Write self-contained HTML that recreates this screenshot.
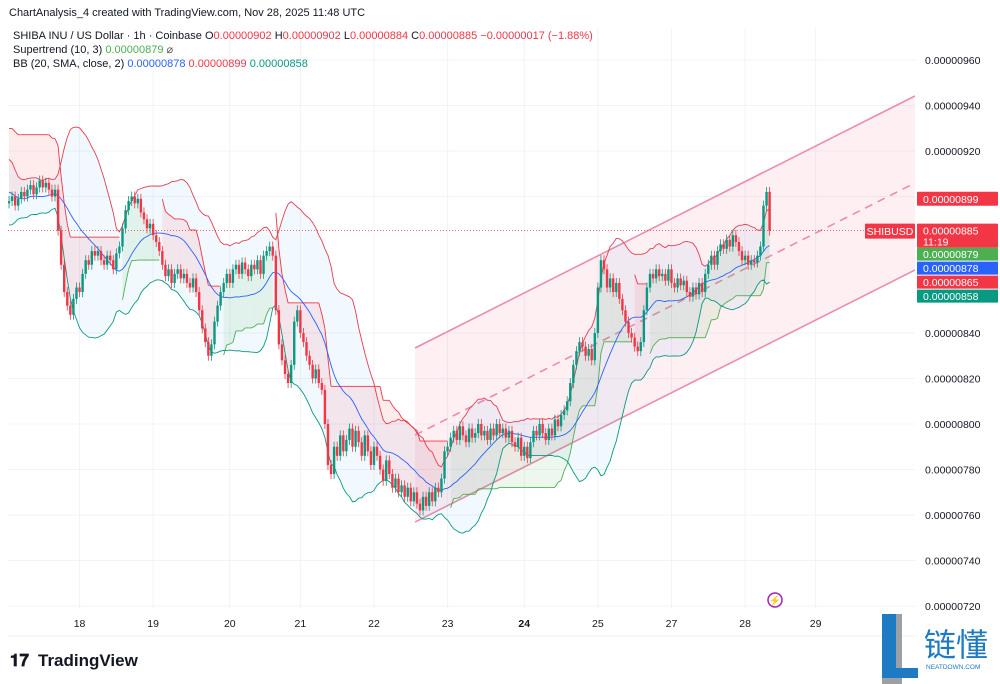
<!DOCTYPE html>
<html><head><meta charset="utf-8"><style>
html,body{margin:0;padding:0;background:#fff;width:1000px;height:684px;overflow:hidden;font-family:"Liberation Sans","Noto Sans CJK SC",sans-serif}
svg text{font-family:"Liberation Sans","Noto Sans CJK SC",sans-serif}
</style></head><body>
<svg id="chart" width="1000" height="684" xmlns="http://www.w3.org/2000/svg">
<g id="grid"></g>
<g id="plot"></g>
<g id="axes"></g>
<text x="9" y="16" font-size="11" fill="#131722">ChartAnalysis_4 created with TradingView.com, Nov 28, 2025 11:48 UTC</text>
<g font-size="11">
<text x="13" y="39" fill="#131722">SHIBA INU / US Dollar · 1h · Coinbase  <tspan fill="#131722">O</tspan><tspan fill="#f23645">0.00000902</tspan>  <tspan fill="#131722">H</tspan><tspan fill="#f23645">0.00000902</tspan>  <tspan fill="#131722">L</tspan><tspan fill="#f23645">0.00000884</tspan>  <tspan fill="#131722">C</tspan><tspan fill="#f23645">0.00000885  −0.00000017 (−1.88%)</tspan></text>
<text x="13" y="53" fill="#131722">Supertrend (10, 3)  <tspan fill="#4caf50">0.00000879</tspan>  <tspan fill="#555">⌀</tspan></text>
<text x="13" y="67" fill="#131722">BB (20, SMA, close, 2)  <tspan fill="#2962ff">0.00000878</tspan>  <tspan fill="#f23645">0.00000899</tspan>  <tspan fill="#089981">0.00000858</tspan></text>
</g>
<g>
<text x="10" y="666" font-size="17" font-weight="bold" fill="#131722">𝟏𝟕</text>
<text x="38" y="666" font-size="17" font-weight="bold" fill="#131722">TradingView</text>
</g>
<g>
<rect x="882" y="614" width="20" height="70" fill="#9aa0a6"/>
<rect x="882" y="614" width="14" height="56" fill="#1f7ac4"/>
<rect x="882" y="668" width="36" height="10" fill="#1f7ac4"/>
<text x="924" y="656" font-size="32" fill="#1f7ac4" font-family="Noto Sans CJK SC, sans-serif">链懂</text>
<text x="926" y="669" font-size="6.5" fill="#1f7ac4">NEATDOWN.COM</text>
</g>
<g><circle cx="775" cy="600" r="7" fill="none" stroke="#9c27b0" stroke-width="1.5"/><text x="775" y="604" font-size="10" fill="#9c27b0" text-anchor="middle">⚡</text></g>
</svg>
<script>
const closes=[898,900,896,899,902,900,903,905,901,904,907,904,906,903,900,903,
885,870,858,852,848,
855,860,858,866,872,870,876,874,
876,872,870,874,872,868,875,878,
886,894,898,900,897,899,
893,890,886,888,883,880,876,870,865,868,
862,866,868,864,866,862,860,864,
858,850,842,836,830,835,
845,852,858,862,866,862,
868,870,866,871,868,865,870,868,872,866,874,876,
878,874,
850,835,828,822,818,826,
845,850,840,836,
830,826,820,824,818,815,800,
782,778,790,786,795,
788,793,798,790,797,
792,786,795,788,782,790,
786,780,775,784,778,772,776,
770,773,768,772,766,770,765,
762,768,764,770,766,772,
770,776,788,790,794,
797,793,799,795,792,798,794,796,800,795,797,793,798,795,800,796,
798,794,797,792,790,794,
786,790,785,792,
797,795,800,796,793,798,795,802,799,804,
806,810,818,826,832,
836,834,830,833,828,
840,860,872,868,
860,864,858,862,855,850,
845,840,838,834,832,836,
850,860,866,864,868,865,
866,863,868,862,860,864,861,863,
858,856,860,857,862,858,
866,870,874,870,876,879,877,
881,878,883,880,876,872,874,
870,872,871,874,
878,896,902,885];
const history=[905,912,918,915,908,902,896,892,898,904,910,906,900,896,893,897,902,899,895,897];
const firstOpen=897;
const priceTicks=[960,940,920,840,820,800,780,760,740,720];
const dayLabels=["18","19","20","21","22","23","24","25","27","28","29"];
const dayIndex=[23,47,72,95,119,143,168,192,216,240,263];
const channelStart=[132.4,833.4,756.9];
const channelEnd=[295.4,944.2,867.7];
const priceTags=[[899,"#f23645"],[879,"#4caf50"],[878,"#2962ff"],[865,"#f23645"],[858,"#089981"]];

const NS="http://www.w3.org/2000/svg";
const X=i=>9+i*3.067, Y=p=>606-(p-720)*2.275;
const fmt=p=>"0.00000"+String(Math.round(p));
function mk(parent,tag,attrs){const e=document.createElementNS(NS,tag);for(const k in attrs)e.setAttribute(k,attrs[k]);parent.appendChild(e);return e;}
const grid=document.getElementById('grid'),plot=document.getElementById('plot'),axes=document.getElementById('axes');
priceTicks.forEach(p=>{const l=mk(grid,'line',{x1:8,x2:915,y1:Y(p),y2:Y(p),stroke:'#f0f3fa'});


const t=mk(axes,'text',{x:925,y:Y(p)+4,'font-size':10.5,fill:'#131722'});t.textContent=fmt(p);

});
mk(grid,'line',{x1:8,x2:915,y1:Y(900),y2:Y(900),stroke:'#f0f3fa'});
dayLabels.forEach((d,k)=>{const x=X(dayIndex[k]);const l=mk(grid,'line',{x1:x,x2:x,y1:28,y2:608,stroke:'#f0f3fa'});


const t=mk(axes,'text',{x:x,y:627,'font-size':10.5,fill:'#131722','text-anchor':'middle','font-weight':d==="24"?'bold':'normal'});t.textContent=d;

});
mk(axes,'line',{x1:8,x2:915,y1:636,y2:636,stroke:'#eef0f4'});

const N=closes.length;
const opens=closes.map((c,i)=>i===0?firstOpen:closes[i-1]);
const highs=closes.map((c,i)=>Math.max(c,opens[i])+2.2);
const lows=closes.map((c,i)=>Math.min(c,opens[i])-2.2);
const all=history.concat(closes);const H=history.length;
const basis=[],up=[],lo=[];
for(let i=0;i<N;i++){const w=all.slice(H+i-19,H+i+1);const m=w.reduce((a,b)=>a+b,0)/20;const sd=Math.sqrt(w.reduce((a,b)=>a+(b-m)*(b-m),0)/20);basis.push(m);up.push(m+2*sd);lo.push(m-2*sd);}
const st=[],dir=[];let atr=0,fu=0,fl=0,d=-1;
for(let i=0;i<N;i++){const pc=i?closes[i-1]:opens[0];const tr=Math.max(highs[i]-lows[i],Math.abs(highs[i]-pc),Math.abs(lows[i]-pc));
atr=i===0?tr*2:(atr*9+tr)/10;const hl=(highs[i]+lows[i])/2;let bu=hl+3*atr,bl=hl-3*atr;
if(i>0){bu=(bu<fu||closes[i-1]>fu)?bu:fu;bl=(bl>fl||closes[i-1]<fl)?bl:fl;}
if(i>0){if(d===-1&&closes[i]>fu)d=1;else if(d===1&&closes[i]<fl)d=-1;}
fu=bu;fl=bl;st.push(d===1?bl:bu);dir.push(d);}
const clip=mk(plot,'clipPath',{id:'cp'});mk(clip,'rect',{x:8,y:28,width:907,height:580});
const g=mk(plot,'g',{'clip-path':'url(#cp)'});
const [i0,u0,l0]=channelStart,[i1,u1,l1]=channelEnd;
const ch=mk(g,'polygon',{points:`${X(i0)},${Y(u0)} ${X(i1)},${Y(u1)} ${X(i1)},${Y(l1)} ${X(i0)},${Y(l0)}`,fill:'rgba(242,54,100,0.08)'});


[[u0,u1,''],[l0,l1,''],[(u0+l0)/2,(u1+l1)/2,'8,6']].forEach(([a,b,da],k)=>{const l=mk(g,'line',{x1:X(i0),y1:Y(a),x2:X(i1),y2:Y(b),stroke:'#ec8cab','stroke-width':1.6,'stroke-dasharray':da});

});
let pts=up.map((v,i)=>X(i)+','+Y(v)).join(' ')+' '+lo.map((v,i)=>X(i)+','+Y(v)).reverse().join(' ');
const bf=mk(g,'polygon',{points:pts,fill:'rgba(33,150,243,0.06)'});


for(let i=1;i<N;i++){const m0=(opens[i-1]+closes[i-1])/2,m1=(opens[i]+closes[i])/2;if(dir[i]!==dir[i-1])continue;
const p=mk(g,'polygon',{points:`${X(i-1)},${Y(st[i-1])} ${X(i)},${Y(st[i])} ${X(i)},${Y(m1)} ${X(i-1)},${Y(m0)}`,fill:dir[i]===1?'rgba(76,175,80,0.10)':'rgba(242,54,69,0.10)'});

}
for(let i=1;i<N;i++){if(dir[i]!==dir[i-1])continue;const l=mk(g,'line',{x1:X(i-1),y1:Y(st[i-1]),x2:X(i),y2:Y(st[i]),stroke:dir[i]===1?'#4caf50':'#f23645','stroke-width':0.9});

}
[[up,'#e04050','bb-upper'],[basis,'#2962ff','bb-basis'],[lo,'#089981','bb-lower']].forEach(([arr,c,n])=>{const pl=mk(g,'polyline',{points:arr.map((v,i)=>X(i)+','+Y(v)).join(' '),fill:'none',stroke:c,'stroke-width':0.9});

});
for(let i=0;i<N;i++){const upc=closes[i]>=opens[i];const c=upc?'#089981':'#f23645';const cg=mk(g,'g',{});


mk(cg,'line',{x1:X(i),x2:X(i),y1:Y(highs[i]),y2:Y(lows[i]),stroke:c,'stroke-width':0.8});
const t=Y(Math.max(opens[i],closes[i])),b=Y(Math.min(opens[i],closes[i]));
mk(cg,'rect',{x:X(i)-1.2,y:t,width:2.4,height:Math.max(1,b-t),fill:c});}
const cp=closes[N-1];
const pl=mk(plot,'line',{x1:8,x2:915,y1:Y(cp),y2:Y(cp),stroke:'#f23645','stroke-width':0.8,'stroke-dasharray':'1,2'});


function tag(p,c,h){const r=mk(axes,'rect',{x:917,y:Y(p)-7,width:81,height:h,fill:c,rx:1});


const t=mk(axes,'text',{x:923,y:Y(p)+4,'font-size':10.5,fill:'#fff'});t.textContent=fmt(p);

return r;}
tag(priceTags[0][0],priceTags[0][1],14);
tag(cp,'#f23645',24);
const ct=mk(axes,'text',{x:923,y:Y(cp)+15,'font-size':10.5,fill:'#fff'});ct.textContent='11:19';


const y0=Y(cp)+17;
priceTags.slice(1).forEach(([p,c],k)=>{const yy=y0+k*14;const r=mk(axes,'rect',{x:917,y:yy,width:81,height:13,fill:c});


const t=mk(axes,'text',{x:923,y:yy+10.5,'font-size':10.5,fill:'#fff'});t.textContent=fmt(p);

});
const sr=mk(axes,'rect',{x:865,y:Y(cp)-7,width:50,height:15,fill:'#f23645',rx:1});


const stx=mk(axes,'text',{x:890,y:Y(cp)+4.5,'font-size':10.5,fill:'#fff','text-anchor':'middle'});stx.textContent='SHIBUSD';


</script>
</body></html>
